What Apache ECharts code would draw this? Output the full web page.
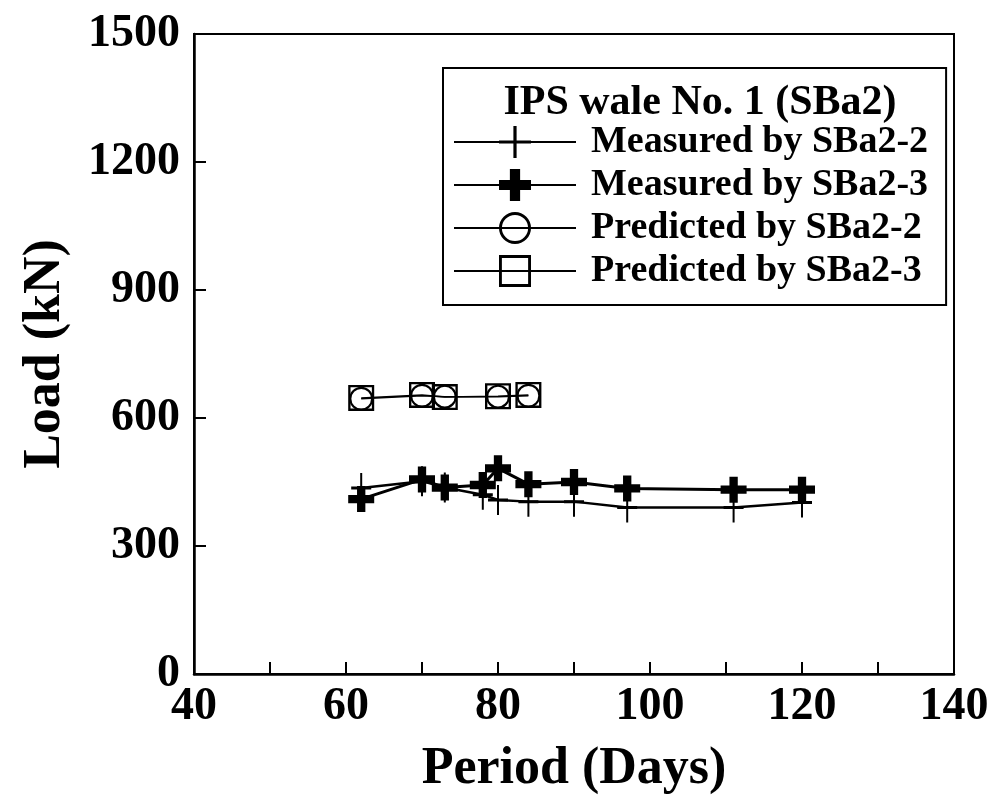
<!DOCTYPE html>
<html>
<head>
<meta charset="utf-8">
<script src="https://cdn.jsdelivr.net/npm/echarts@6/dist/echarts.min.js"></script>
<style>
  html, body { margin: 0; padding: 0; background: #fff; }
  #chart { width: 995px; height: 803px; }
</style>
</head>
<body>
<div id="chart"></div>
<script>
// data
var daysMeasured = [62, 70, 73, 78, 80, 84, 90, 97, 111, 120];
var measuredSBa22 = [436, 452, 437, 420, 408, 404, 404, 390, 390, 402];
var measuredSBa23 = [410, 456, 437, 443, 482, 445, 450, 435, 432, 432];

var daysPredicted = [62, 70, 73, 80, 84];
var predictedSBa22 = [645, 652, 650, 650, 652];
var predictedSBa23 = [647, 654, 649, 651, 654];

var legendTitle = 'IPS wale No. 1 (SBa2)';
var seriesNames = ['Measured by SBa2-2', 'Measured by SBa2-3', 'Predicted by SBa2-2', 'Predicted by SBa2-3'];

var FONT = '"Liberation Serif", "Times New Roman", serif';

function pairs(xs, ys) {
  return xs.map(function (x, i) { return [x, ys[i]]; });
}

// marker shapes
var thinPlus = 'path://M9,0 H11 V20 H9 Z M0,9 H20 V11 H0 Z';
var boldPlus = 'path://M3.4,0 H6.6 V10 H3.4 Z M0,3.4 H10 V6.6 H0 Z';
var ringCircle = 'path://M5,0 A5,5 0 1,1 5,10 A5,5 0 1,1 5,0 Z M5,0.9 A4.1,4.1 0 1,0 5,9.1 A4.1,4.1 0 1,0 5,0.9 Z';
var ringSquare = 'path://M0,0 H10 V10 H0 Z M0.9,0.9 V9.1 H9.1 V0.9 Z';

var chart = echarts.init(document.getElementById('chart'));

var option = {
  backgroundColor: '#fff',
  animation: false,
  title: {
    text: legendTitle,
    left: 695,
    top: 77,
    textAlign: 'center',
    textStyle: { fontFamily: FONT, fontWeight: 'bold', fontSize: 42, color: '#000' }
  },
  legend: {
    orient: 'vertical',
    left: 443,
    top: 68,
    padding: [55, 18, 15, 10],
    itemWidth: 122,
    itemHeight: 40,
    itemGap: 5,
    borderColor: '#000',
    borderWidth: 2,
    data: seriesNames,
    textStyle: { fontFamily: FONT, fontWeight: 'bold', fontSize: 38, color: '#000', padding: [0, 0, 0, 10] }
  },
  grid: {
    left: 194, right: 41, top: 34, bottom: 129,
    show: true, borderColor: '#000', borderWidth: 2
  },
  xAxis: {
    type: 'value',
    min: 40, max: 140, interval: 20,
    name: 'Period (Days)',
    nameLocation: 'middle',
    nameGap: 70,
    nameTextStyle: { fontFamily: FONT, fontWeight: 'bold', fontSize: 52, color: '#000' },
    axisLine: { show: true, lineStyle: { color: '#000', width: 2.5 } },
    axisTick: { show: true, inside: true, length: 12, lineStyle: { color: '#000', width: 2 } },
    minorTick: { show: true, splitNumber: 2, length: 12, lineStyle: { color: '#000', width: 2 } },
    splitLine: { show: false },
    axisLabel: { fontFamily: FONT, fontWeight: 'bold', fontSize: 46, color: '#000', margin: 10 }
  },
  yAxis: {
    type: 'value',
    min: 0, max: 1500, interval: 300,
    name: 'Load (kN)',
    nameLocation: 'middle',
    nameGap: 122,
    nameTextStyle: { fontFamily: FONT, fontWeight: 'bold', fontSize: 52, color: '#000' },
    axisLine: { show: true, lineStyle: { color: '#000', width: 2.5 } },
    axisTick: { show: true, inside: true, length: 12, lineStyle: { color: '#000', width: 2 } },
    splitLine: { show: false },
    axisLabel: {
      fontFamily: FONT, fontWeight: 'bold', fontSize: 46, color: '#000', margin: 14,
      formatter: function (v) { return String(v); }
    }
  },
  series: [
    {
      name: seriesNames[0],
      type: 'line',
      data: pairs(daysMeasured, measuredSBa22),
      symbol: thinPlus,
      symbolSize: [20, 30],
      lineStyle: { color: '#000', width: 2.5 },
      itemStyle: { color: '#000' }
    },
    {
      name: seriesNames[1],
      type: 'line',
      data: pairs(daysMeasured, measuredSBa23),
      symbol: boldPlus,
      symbolSize: 26,
      lineStyle: { color: '#000', width: 3 },
      itemStyle: { color: '#000' }
    },
    {
      name: seriesNames[2],
      type: 'line',
      data: pairs(daysPredicted, predictedSBa22),
      symbol: ringCircle,
      symbolSize: 24,
      lineStyle: { color: '#000', width: 1.5 },
      itemStyle: { color: '#000' }
    },
    {
      name: seriesNames[3],
      type: 'line',
      data: pairs(daysPredicted, predictedSBa23),
      symbol: ringSquare,
      symbolSize: 26,
      lineStyle: { color: '#000', width: 1.5 },
      itemStyle: { color: '#000' }
    }
  ]
};

chart.setOption(option);
</script>
</body>
</html>
